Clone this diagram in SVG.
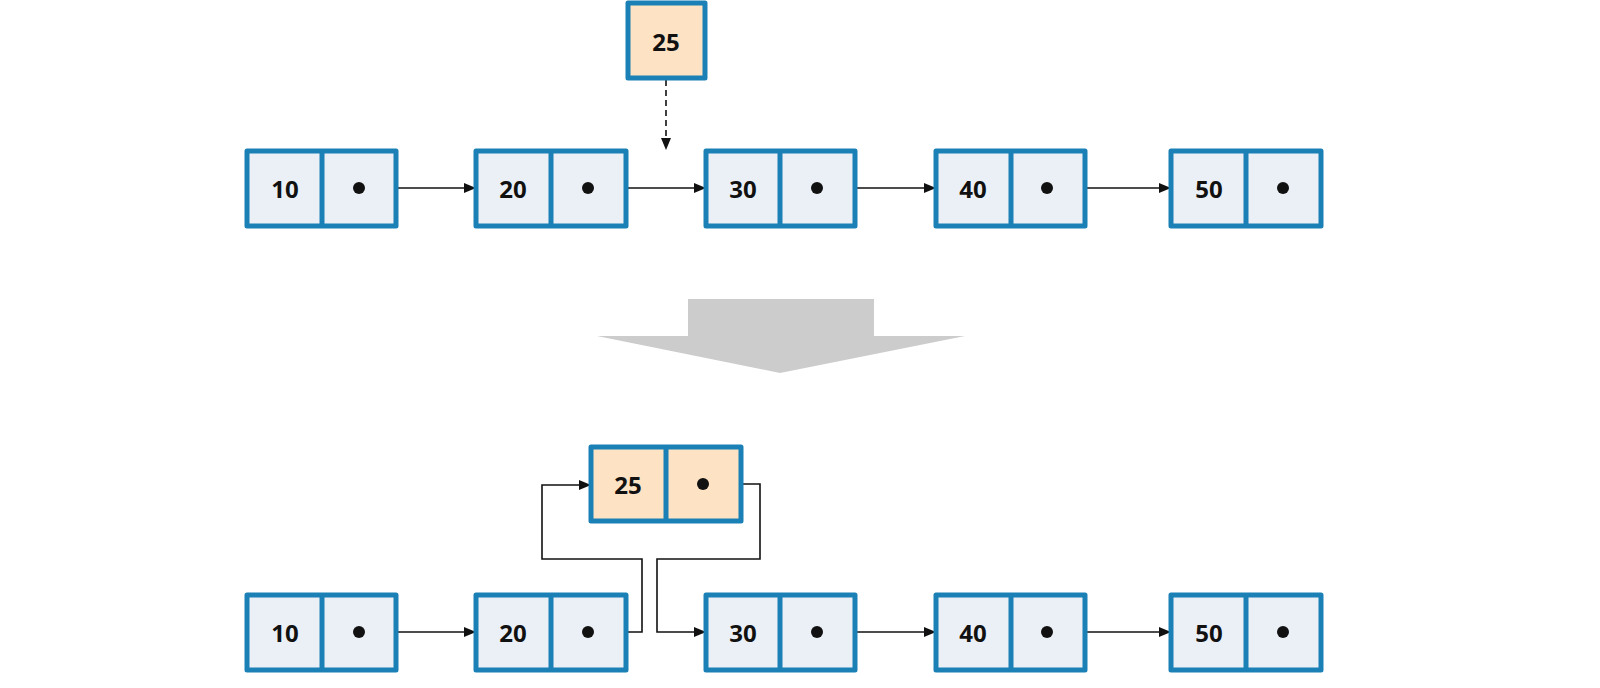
<svg xmlns="http://www.w3.org/2000/svg" width="1600" height="688" viewBox="0 0 1600 688">
<style>
.c{fill:#eaf0f6;stroke:#1b80b5;stroke-width:5;stroke-linejoin:round}
.o{fill:#fde2c4;stroke:#1b80b5;stroke-width:5;stroke-linejoin:round}
.t{font-family:"Open Sans","DejaVu Sans",sans-serif;font-weight:bold;font-size:24px;text-anchor:middle;dominant-baseline:central;fill:#111}
.l{fill:none;stroke:#111;stroke-width:1.6}
.d{fill:#111}
</style>
<defs><marker id="a" markerWidth="12" markerHeight="10" refX="12" refY="5" orient="auto" markerUnits="userSpaceOnUse"><path d="M0,0L12,5L0,10z" fill="#111"/></marker></defs>
<rect width="1600" height="688" fill="#fff"/>
<g id="arrow-big"><rect x="688" y="299" width="186" height="38" fill="#cccccc"/><path d="M597,336L965,336L780,373z" fill="#cccccc"/></g>
<g id="connectors">
<path class="l" d="M359,188H476" marker-end="url(#a)"/>
<path class="l" d="M588,188H706" marker-end="url(#a)"/>
<path class="l" d="M817,188H936" marker-end="url(#a)"/>
<path class="l" d="M1047,188H1171" marker-end="url(#a)"/>
<path class="l" d="M666,80V150" stroke-dasharray="6,4" marker-end="url(#a)"/>
<path class="l" d="M359,632H476" marker-end="url(#a)"/>
<path class="l" d="M588,632H642V559H542V485H591" marker-end="url(#a)"/>
<path class="l" d="M703,484H760V559H657V632H706" marker-end="url(#a)"/>
<path class="l" d="M817,632H936" marker-end="url(#a)"/>
<path class="l" d="M1047,632H1171" marker-end="url(#a)"/>
</g>
<g id="top25"><rect class="o" x="628" y="3" width="77" height="75"/><text class="t" x="666" y="41">25</text></g>
<g id="t10"><rect class="c" x="247" y="151" width="149" height="75"/><line class="c" x1="322" y1="151" x2="322" y2="226"/><text class="t" x="285" y="188">10</text><circle class="d" cx="359" cy="188" r="6"/></g>
<g id="t20"><rect class="c" x="476" y="151" width="150" height="75"/><line class="c" x1="551" y1="151" x2="551" y2="226"/><text class="t" x="513" y="188">20</text><circle class="d" cx="588" cy="188" r="6"/></g>
<g id="t30"><rect class="c" x="706" y="151" width="149" height="75"/><line class="c" x1="780" y1="151" x2="780" y2="226"/><text class="t" x="743" y="188">30</text><circle class="d" cx="817" cy="188" r="6"/></g>
<g id="t40"><rect class="c" x="936" y="151" width="149" height="75"/><line class="c" x1="1011" y1="151" x2="1011" y2="226"/><text class="t" x="973" y="188">40</text><circle class="d" cx="1047" cy="188" r="6"/></g>
<g id="t50"><rect class="c" x="1171" y="151" width="150" height="75"/><line class="c" x1="1246" y1="151" x2="1246" y2="226"/><text class="t" x="1209" y="188">50</text><circle class="d" cx="1283" cy="188" r="6"/></g>
<g id="b25"><rect class="o" x="591" y="447" width="150" height="74"/><line class="o" x1="666" y1="447" x2="666" y2="521"/><text class="t" x="628" y="484">25</text><circle class="d" cx="703" cy="484" r="6"/></g>
<g id="b10"><rect class="c" x="247" y="595" width="149" height="75"/><line class="c" x1="322" y1="595" x2="322" y2="670"/><text class="t" x="285" y="632">10</text><circle class="d" cx="359" cy="632" r="6"/></g>
<g id="b20"><rect class="c" x="476" y="595" width="150" height="75"/><line class="c" x1="551" y1="595" x2="551" y2="670"/><text class="t" x="513" y="632">20</text><circle class="d" cx="588" cy="632" r="6"/></g>
<g id="b30"><rect class="c" x="706" y="595" width="149" height="75"/><line class="c" x1="780" y1="595" x2="780" y2="670"/><text class="t" x="743" y="632">30</text><circle class="d" cx="817" cy="632" r="6"/></g>
<g id="b40"><rect class="c" x="936" y="595" width="149" height="75"/><line class="c" x1="1011" y1="595" x2="1011" y2="670"/><text class="t" x="973" y="632">40</text><circle class="d" cx="1047" cy="632" r="6"/></g>
<g id="b50"><rect class="c" x="1171" y="595" width="150" height="75"/><line class="c" x1="1246" y1="595" x2="1246" y2="670"/><text class="t" x="1209" y="632">50</text><circle class="d" cx="1283" cy="632" r="6"/></g>
</svg>
